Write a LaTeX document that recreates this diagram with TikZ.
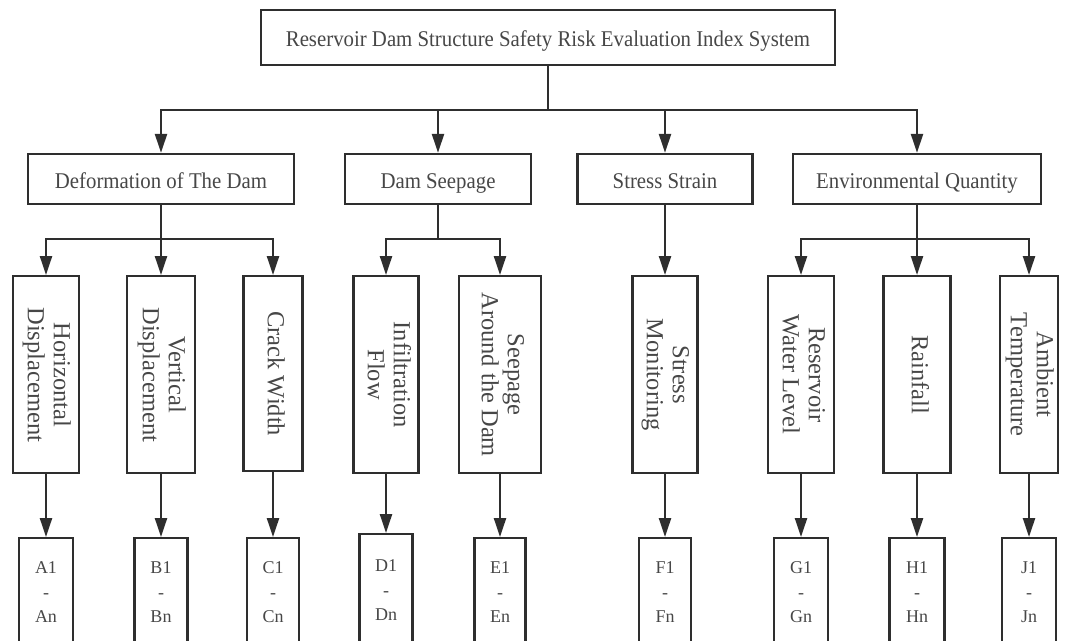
\documentclass[tikz,border=0pt]{standalone}
\usepackage{fontspec}
\usepackage{graphicx}
\setmainfont{Liberation Serif}
\newfontfamily\condfont[FakeStretch=0.925]{Liberation Serif}
\usetikzlibrary{arrows.meta}
\newcommand{\rotlabel}[1]{\rotatebox{-90}{\begin{tabular}{@{}c@{}}#1\end{tabular}}}
\tikzset{
  box/.style={draw=black!82, line width=2.4pt, inner sep=0pt, text=black!72},
  topbox/.style={box, minimum height=55pt, text height=18pt, text depth=0pt, font=\condfont\fontsize{22.5}{27}\selectfont},
  groupbox/.style={box, minimum height=50pt, text height=18pt, text depth=0pt, font=\condfont\fontsize{22.5}{27}\selectfont},
  leafbox/.style={box, anchor=north, minimum height=197pt, font=\fontsize{24.5}{26}\selectfont},
  codebox/.style={box, anchor=north, minimum height=108pt, align=center, font=\fontsize{18}{24.5}\selectfont},
  link/.style={draw=black!82, line width=2.4pt},
}
\begin{document}
\begin{tikzpicture}[line cap=butt,line join=miter,>={Triangle[length=19pt,width=12pt]},x=1pt,y=-1pt]
				\useasboundingbox (0,0) rectangle (1065,640);
				\clip(0,0) rectangle (1065,640);
				% root
				\node[topbox, minimum width=574pt] (top) at (548,37.5) {Reservoir Dam Structure Safety Risk Evaluation Index System};
				% groups
				\node[groupbox, minimum width=266pt] (def) at (161,179) {Deformation of The Dam};
				\node[groupbox, minimum width=186pt] (seep) at (438,179) {Dam Seepage};
				\node[groupbox, minimum width=175pt] (stress) at (665,179) {Stress Strain};
				\node[groupbox, minimum width=248pt] (env) at (917,179) {Environmental Quantity};
				% indices
				\node[leafbox, minimum width=66pt] (hor) at (46,275) {\rotlabel{Horizontal\\Displacement}};
				\node[leafbox, minimum width=68pt] (ver) at (161,275) {\rotlabel{Vertical\\Displacement}};
				\node[leafbox, minimum width=59pt, minimum height=195pt] (crack) at (273,275) {\rotlabel{Crack Width}};
				\node[leafbox, minimum width=65pt] (infil) at (386,275) {\rotlabel{Infiltration\\Flow}};
				\node[leafbox, minimum width=82pt] (around) at (500,275) {\rotlabel{Seepage\\Around the Dam}};
				\node[leafbox, minimum width=65pt] (mon) at (665,275) {\rotlabel{Stress\\Monitoring}};
				\node[leafbox, minimum width=66pt] (level) at (801,275) {\rotlabel{Reservoir\\Water Level}};
				\node[leafbox, minimum width=67pt] (rain) at (917,275) {\rotlabel{Rainfall}};
				\node[leafbox, minimum width=58pt] (temp) at (1029,275) {\rotlabel{Ambient\\Temperature}};
				% measuring points
				\node[codebox, minimum width=54pt] (A) at (46,537) {A1\\-\\An};
				\node[codebox, minimum width=53pt] (B) at (161,537) {B1\\-\\Bn};
				\node[codebox, minimum width=52pt] (C) at (273,537) {C1\\-\\Cn};
				\node[codebox, minimum width=53pt, minimum height=112pt] (D) at (386,533) {D1\\-\\Dn};
				\node[codebox, minimum width=51pt] (E) at (500,537) {E1\\-\\En};
				\node[codebox, minimum width=52pt] (F) at (665,537) {F1\\-\\Fn};
				\node[codebox, minimum width=54pt] (G) at (801,537) {G1\\-\\Gn};
				\node[codebox, minimum width=55pt] (H) at (917,537) {H1\\-\\Hn};
				\node[codebox, minimum width=54pt] (J) at (1029,537) {J1\\-\\Jn};
				% bus lines
				\coordinate (j0) at (548,110);
				\coordinate (j1) at (161,239);
				\coordinate (j2) at (438,239);
				\coordinate (j3) at (917,239);
				\draw[link] (top) -- (j0);
				\foreach \grp in {def,seep,stress,env}
					\draw[link,->] (j0) -| (\grp.north);
				\draw[link] (def) -- (j1);
				\foreach \idx in {hor,ver,crack}
					\draw[link,->] (j1) -| (\idx.north);
				\draw[link] (seep) -- (j2);
				\foreach \idx in {infil,around}
					\draw[link,->] (j2) -| (\idx.north);
				\draw[link,->] (stress) -- (mon);
				\draw[link] (env) -- (j3);
				\foreach \idx in {level,rain,temp}
					\draw[link,->] (j3) -| (\idx.north);
				\foreach \src/\dst in {hor/A,ver/B,crack/C,infil/D,around/E,mon/F,level/G,rain/H,temp/J}
					\draw[link,->] (\src) -- (\dst);
			\end{tikzpicture}
\end{document}
